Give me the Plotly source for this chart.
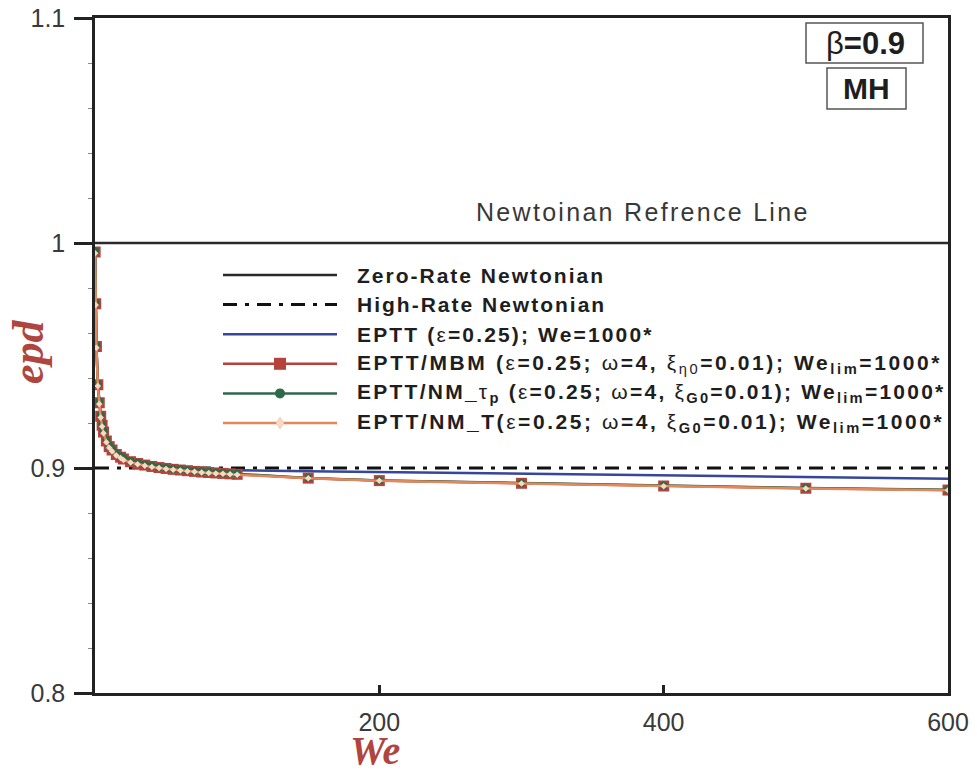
import plotly.graph_objects as go

# ---------------- data ----------------
we = [0.1, 0.5, 1, 2, 3, 4, 5, 6, 8, 10, 12, 15, 18, 20, 25, 30, 35, 40, 45, 50,
      55, 60, 65, 70, 75, 80, 85, 90, 95, 100, 150, 200, 300, 400, 500, 600]

epd_mbm = [0.996, 0.973, 0.954, 0.937, 0.929, 0.923, 0.919, 0.916, 0.912, 0.9095,
           0.908, 0.906, 0.9048, 0.904, 0.9028, 0.902, 0.9013, 0.9007, 0.9002, 0.8998,
           0.8994, 0.8991, 0.8988, 0.8985, 0.8982, 0.898, 0.8978, 0.8976, 0.8974, 0.8972,
           0.8955, 0.8944, 0.8932, 0.892, 0.891, 0.8902]

epd_nm_tp = [0.9965, 0.9735, 0.9545, 0.9375, 0.9296, 0.9236, 0.9196, 0.9166, 0.9126, 0.91,
             0.9085, 0.9065, 0.9052, 0.9044, 0.9031, 0.9023, 0.9016, 0.901, 0.9005, 0.9,
             0.8996, 0.8993, 0.899, 0.8987, 0.8984, 0.8982, 0.898, 0.8978, 0.8976, 0.8974,
             0.8956, 0.8945, 0.8933, 0.8921, 0.8911, 0.8903]

epd_nm_t = [0.9955, 0.9725, 0.9535, 0.9365, 0.9285, 0.9225, 0.9185, 0.9155, 0.9115, 0.909,
            0.9075, 0.9056, 0.9044, 0.9036, 0.9025, 0.9017, 0.901, 0.9004, 0.9, 0.8996,
            0.8992, 0.8989, 0.8986, 0.8983, 0.898, 0.8978, 0.8976, 0.8974, 0.8972, 0.897,
            0.8954, 0.8943, 0.8931, 0.8919, 0.8909, 0.8901]

epd_eptt = [0.996, 0.973, 0.954, 0.937, 0.929, 0.923, 0.919, 0.916, 0.912, 0.9095,
            0.908, 0.906, 0.9048, 0.904, 0.903, 0.9022, 0.9016, 0.9011, 0.9007, 0.9004,
            0.9001, 0.8999, 0.8997, 0.8995, 0.8994, 0.8993, 0.8992, 0.8991, 0.899, 0.899,
            0.8986, 0.8982, 0.8975, 0.8967, 0.896, 0.8952]

we_ref = [0, 600]
epd_zero_rate = [1.0, 1.0]
epd_high_rate = [0.9, 0.9]

x_tickvals = [200, 400, 600]
x_ticktext = ["200", "400", "600"]
y_tickvals = [0.8, 0.9, 1.0, 1.1]
y_ticktext = ["0.8", "0.9", "1", "1.1"]

N = "<span style='font-weight:normal'>%s</span>"
legend_labels = [
    "Zero-Rate Newtonian",
    "High-Rate Newtonian",
    "EPTT (" + N % "ε" + "=0.25); We=1000*",
    "EPTT/MBM (" + N % "ε" + "=0.25; " + N % "ω" + "=4, " + N % "ξ"
    + "<sub>" + N % "η0" + "</sub>=0.01); We<sub>lim</sub>=1000*",
    "EPTT/NM_" + N % "τ" + "<sub>p</sub> (" + N % "ε" + "=0.25; " + N % "ω" + "=4, "
    + N % "ξ" + "<sub>G0</sub>=0.01); We<sub>lim</sub>=1000*",
    "EPTT/NM_T(" + N % "ε" + "=0.25; " + N % "ω" + "=4, " + N % "ξ"
    + "<sub>G0</sub>=0.01); We<sub>lim</sub>=1000*",
]
legend_spacing = [2.0, 2.0, 2.15, 2.6, 2.25, 2.55]

# ---------------- styles ----------------
C_BLUE = "#34479a"
C_RED = "#b5433c"
C_GREEN = "#2f6a48"
C_ORANGE = "#e5875c"
C_ORANGE_MK = "#f6d9c6"
C_TITLE = "#b0453f"

W, H = 977, 776
ML, MR, MT, MB = 95, 29, 18, 83
PW, PH = W - ML - MR, H - MT - MB


def px(x):
    return (x - ML) / PW


def py(y):
    return (H - MB - y) / PH


fig = go.Figure()

fig.add_trace(go.Scatter(x=we_ref, y=epd_zero_rate, mode="lines",
                         line=dict(color="#2a2a2a", width=2.5), showlegend=False))
fig.add_trace(go.Scatter(x=we_ref, y=epd_high_rate, mode="lines",
                         line=dict(color="#111111", width=3, dash="14px,8px,4px,8px"),
                         showlegend=False))
fig.add_trace(go.Scatter(x=we, y=epd_eptt, mode="lines",
                         line=dict(color=C_BLUE, width=2.5), showlegend=False))
fig.add_trace(go.Scatter(x=we, y=epd_mbm, mode="lines+markers",
                         line=dict(color=C_RED, width=2.5),
                         marker=dict(symbol="square", size=11, color=C_RED),
                         showlegend=False))
fig.add_trace(go.Scatter(x=we, y=epd_nm_tp, mode="lines+markers",
                         line=dict(color=C_GREEN, width=2.5),
                         marker=dict(symbol="circle", size=8, color=C_GREEN),
                         showlegend=False))
fig.add_trace(go.Scatter(x=we, y=epd_nm_t, mode="lines+markers",
                         line=dict(color=C_ORANGE, width=2.5),
                         marker=dict(symbol="diamond", size=5, color=C_ORANGE_MK,
                                     line=dict(width=0)),
                         showlegend=False))

shapes = []
annotations = []

# ---------------- custom legend ----------------
row_y0 = 275
row_dy = 29.6
x_l0, x_l1, x_mid, x_txt = 223, 337, 280, 355
leg_styles = [
    dict(color="#2a2a2a", width=2.5, dash="solid"),
    dict(color="#111111", width=3, dash="14px,8px,4px,8px"),
    dict(color=C_BLUE, width=2.5, dash="solid"),
    dict(color=C_RED, width=2.5, dash="solid"),
    dict(color=C_GREEN, width=2.5, dash="solid"),
    dict(color=C_ORANGE, width=2.5, dash="solid"),
]
for i, (lab, st, ls) in enumerate(zip(legend_labels, leg_styles, legend_spacing)):
    yy = row_y0 + i * row_dy
    shapes.append(dict(type="line", xref="paper", yref="paper",
                       x0=px(x_l0), x1=px(x_l1), y0=py(yy), y1=py(yy), line=st))
    annotations.append(dict(xref="paper", yref="paper", x=px(x_txt), y=py(yy),
                            xanchor="left", yanchor="middle", showarrow=False,
                            text="<span style='letter-spacing:%.2fpx'>" % ls + lab + "</span>",
                            font=dict(family="Liberation Sans, Arial", size=21,
                                      color="#1e1e1e", weight="bold")))
# legend markers
ym = row_y0 + 3 * row_dy
shapes.append(dict(type="rect", xref="paper", yref="paper",
                   x0=px(x_mid - 6), x1=px(x_mid + 6), y0=py(ym + 6), y1=py(ym - 6),
                   fillcolor=C_RED, line=dict(width=0)))
ym = row_y0 + 4 * row_dy
shapes.append(dict(type="circle", xref="paper", yref="paper",
                   x0=px(x_mid - 5), x1=px(x_mid + 5), y0=py(ym + 5), y1=py(ym - 5),
                   fillcolor=C_GREEN, line=dict(width=0)))
ym = row_y0 + 5 * row_dy
shapes.append(dict(type="path", xref="paper", yref="paper",
                   path="M %f %f L %f %f L %f %f L %f %f Z" % (
                       px(x_mid), py(ym - 6), px(x_mid + 4), py(ym),
                       px(x_mid), py(ym + 6), px(x_mid - 4), py(ym)),
                   fillcolor=C_ORANGE_MK, line=dict(color="#f0b89a", width=0.5)))

# ---------------- reference line text ----------------
annotations.append(dict(xref="paper", yref="paper", x=px(643), y=py(212),
                        xanchor="center", yanchor="middle", showarrow=False,
                        text="<span style='letter-spacing:2.3px'>Newtoinan Refrence Line</span>",
                        font=dict(family="Liberation Sans, Arial", size=25, color="#383838")))

# ---------------- beta / MH boxes ----------------
shapes.append(dict(type="rect", xref="paper", yref="paper",
                   x0=px(806), x1=px(923), y0=py(63), y1=py(23),
                   line=dict(color="#555555", width=1.5), fillcolor="white"))
shapes.append(dict(type="rect", xref="paper", yref="paper",
                   x0=px(827), x1=px(906), y0=py(109), y1=py(68),
                   line=dict(color="#555555", width=1.5), fillcolor="white"))
annotations.append(dict(xref="paper", yref="paper", x=px(865), y=py(43),
                        xanchor="center", yanchor="middle", showarrow=False,
                        text=N % "β" + "=0.9",
                        font=dict(family="Liberation Sans, Arial", size=31,
                                  color="#1e1e1e", weight="bold")))
annotations.append(dict(xref="paper", yref="paper", x=px(866), y=py(89),
                        xanchor="center", yanchor="middle", showarrow=False,
                        text="MH",
                        font=dict(family="Liberation Sans, Arial", size=30,
                                  color="#1e1e1e", weight="bold")))

# ---------------- axis titles ----------------
annotations.append(dict(xref="paper", yref="paper", x=px(28), y=py(352),
                        xanchor="center", yanchor="middle", showarrow=False,
                        textangle=-90, text="<i>epd</i>",
                        font=dict(family="Liberation Serif, Times New Roman", size=44,
                                  color=C_TITLE, weight="bold")))
annotations.append(dict(xref="paper", yref="paper", x=px(375), y=py(775),
                        xanchor="center", yanchor="bottom", showarrow=False,
                        text="<i>We</i>",
                        font=dict(family="Liberation Serif, Times New Roman", size=40,
                                  color=C_TITLE, weight="bold")))

fig.update_layout(
    width=W, height=H,
    margin=dict(l=ML, r=MR, t=MT, b=MB, pad=0, autoexpand=False),
    paper_bgcolor="white", plot_bgcolor="white",
    shapes=shapes, annotations=annotations,
    showlegend=False,
)
fig.update_xaxes(range=[0, 600], tickvals=x_tickvals, ticktext=x_ticktext,
                 ticks="inside", ticklen=8, tickwidth=2.5, tickcolor="#222222",
                 ticklabelstandoff=5, automargin=False,
                 showgrid=False, zeroline=False, showline=True, linecolor="#222222",
                 linewidth=2.5, mirror=True,
                 tickfont=dict(family="Liberation Sans, Arial", size=25, color="#3a3a3a"))
fig.update_yaxes(range=[0.8, 1.1], tickvals=y_tickvals, ticktext=y_ticktext,
                 ticks="outside", ticklen=18, tickwidth=2.5, tickcolor="#222222",
                 ticklabelstandoff=4, automargin=False,
                 minor=dict(dtick=0.02, ticks="outside", ticklen=4, tickwidth=1,
                            tickcolor="#888888"),
                 showgrid=False, zeroline=False, showline=True, linecolor="#222222",
                 linewidth=2.5, mirror=True,
                 tickfont=dict(family="Liberation Sans, Arial", size=25, color="#3a3a3a"))

fig.write_html("out.html", config={"displayModeBar": False},
               post_script="document.body.style.margin='0';document.body.style.padding='0';")
